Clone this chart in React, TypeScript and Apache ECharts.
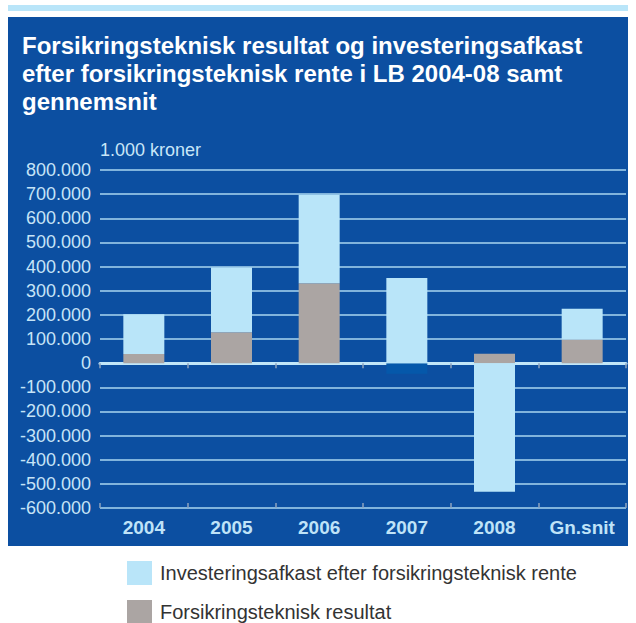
import React, { useEffect, useRef } from "react";
import * as echarts from "echarts";

const categories = ["2004", "2005", "2006", "2007", "2008", "Gn.snit"];
const tekniskResultat = [38000, 128000, 331000, -44000, 38500, 98000];
const investeringsafkast = [165000, 268000, 366000, 353000, -533000, 127000];
const seriesNames = [
  "Investeringsafkast efter forsikringsteknisk rente",
  "Forsikringsteknisk resultat",
];
const titleLines = [
  "Forsikringsteknisk resultat og investeringsafkast",
  "efter forsikringsteknisk rente i LB 2004-08 samt",
  "gennemsnit",
];
const unitLabel = "1.000 kroner";

const FONT = "'Liberation Sans', Arial, Helvetica, sans-serif";
const PANEL = "#0c4fa1";
const LIGHT = "#b9e5f9";
const GREY = "#aba5a3";

function fmt(v: number): string {
  if (v === 0) return "0";
  const sign = v < 0 ? "-" : "";
  const k = Math.abs(v) / 1000;
  return sign + k + ".000";
}

export default function App() {
  const ref = useRef<HTMLDivElement>(null);
  useEffect(() => {
    if (!ref.current) return;
    const chart = echarts.init(ref.current, null, { renderer: "svg" });
    const legendBase = {
      orient: "vertical",
      left: 127,
      padding: 0,
      itemWidth: 25,
      itemHeight: 24,
      icon: "rect",
      textStyle: { color: "#333333", fontSize: 20, fontFamily: FONT, padding: [0, 0, 0, 3] },
    };
    const zeroAxisBase = {
      type: "category",
      data: categories,
      position: "bottom",
      axisLabel: { show: false },
    };
    chart.setOption({
      animation: false,
      textStyle: { fontFamily: FONT },
      title: {
        text: titleLines.join("\n"),
        left: 22,
        top: 31,
        padding: 0,
        textStyle: {
          color: "#ffffff",
          fontSize: 24,
          fontWeight: "bold",
          lineHeight: 28,
          fontFamily: FONT,
        },
      },
      graphic: [
        { type: "rect", z: -10, shape: { x: 8, y: 5, width: 620, height: 6 }, style: { fill: LIGHT } },
        { type: "rect", z: -10, shape: { x: 8, y: 17, width: 620, height: 529 }, style: { fill: PANEL } },
        {
          type: "text",
          x: 100,
          y: 150,
          style: { text: unitLabel, fill: "#c8e6f8", fontSize: 18, fontFamily: FONT, verticalAlign: "middle" },
        },
      ],
      legend: [
        { ...legendBase, top: 561, data: [seriesNames[0]] },
        { ...legendBase, top: 600, data: [seriesNames[1]] },
      ],
      grid: { left: 100, right: 10, top: 170, bottom: 115, containLabel: false },
      xAxis: [
        {
          type: "category",
          data: categories,
          position: "bottom",
          axisLine: { show: false, onZero: false },
          axisTick: { show: false },
          axisLabel: { color: "#bfe3f8", fontSize: 19, fontWeight: "bold", margin: 10, fontFamily: FONT },
        },
        {
          ...zeroAxisBase,
          axisLine: { show: true, onZero: true, lineStyle: { color: "#c2e7f9", width: 3 } },
          axisTick: { show: true, length: 5, lineStyle: { color: "#8ea3bf", width: 1.5 } },
        },
        {
          ...zeroAxisBase,
          axisLine: { show: false, onZero: true },
          axisTick: { show: true, inside: true, length: 5, lineStyle: { color: "#8ea3bf", width: 1.5 } },
        },
      ],
      yAxis: {
        type: "value",
        min: -600000,
        max: 800000,
        interval: 100000,
        axisLine: { show: false },
        axisTick: { show: false },
        splitLine: { lineStyle: { color: "#a9d6f0", width: 1.5 } },
        axisLabel: { color: "#c6e4f7", fontSize: 18, margin: 9, formatter: fmt, fontFamily: FONT },
      },
      series: [
        {
          name: seriesNames[1],
          type: "bar",
          stack: "total",
          xAxisIndex: 0,
          barWidth: 41,
          itemStyle: { color: GREY },
          data: tekniskResultat.map((v) =>
            v < 0 ? { value: v, itemStyle: { color: "#0558aa" } } : v
          ),
        },
        {
          name: seriesNames[0],
          type: "bar",
          stack: "total",
          xAxisIndex: 0,
          barWidth: 41,
          itemStyle: { color: LIGHT },
          data: investeringsafkast,
        },
      ],
    });
    return () => chart.dispose();
  }, []);
  return (
    <div
      ref={ref}
      style={{ position: "fixed", left: 0, top: 0, width: 636, height: 623, background: "#ffffff" }}
    />
  );
}
